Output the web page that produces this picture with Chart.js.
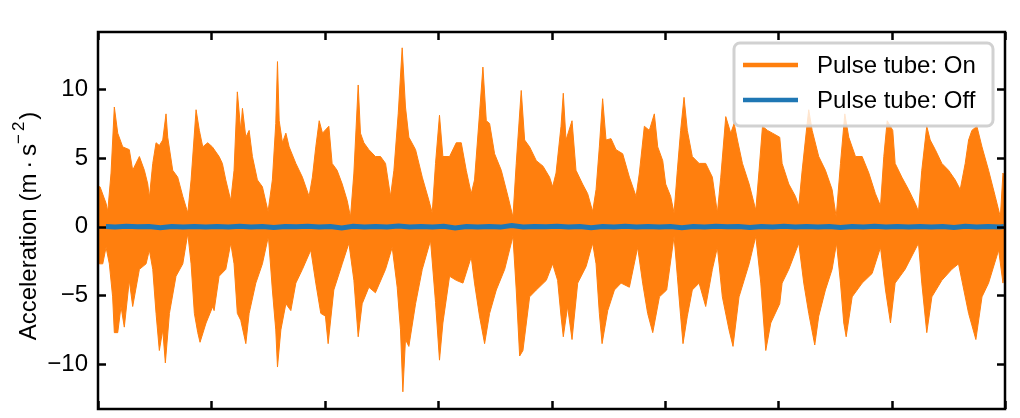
<!DOCTYPE html>
<html>
<head>
<meta charset="utf-8">
<script src="https://cdn.jsdelivr.net/npm/chart.js@4.4.0/dist/chart.umd.min.js"></script>
<style>
  html, body { margin: 0; padding: 0; background: #fff; overflow: hidden; }
  #wrap { position: relative; width: 1020px; height: 418px; }
</style>
</head>
<body>
<div id="wrap"><canvas id="accel"></canvas></div>
<script>
// Pulse tube "On": upper and lower envelope of the acceleration trace (time in tick units)
const onUpperT = [0.000,0.018,0.071,0.086,0.115,0.144,0.174,0.218,0.247,0.276,0.306,0.335,0.365,0.409,0.439,0.453,
  0.483,0.512,0.541,0.571,0.600,0.615,0.659,0.703,0.748,0.792,0.821,0.865,0.894,0.924,0.968,1.009,1.068,1.097,1.127,
  1.171,1.200,1.229,1.259,1.274,1.304,1.333,1.362,1.406,1.450,1.500,1.538,1.568,1.583,1.598,1.627,1.657,1.686,1.745,
  1.803,1.862,1.891,1.921,1.951,1.980,2.036,2.065,2.109,2.154,2.198,2.227,2.257,2.295,2.315,2.345,2.389,2.447,2.492,
  2.536,2.580,2.610,2.648,2.683,2.712,2.742,2.801,2.860,2.919,2.948,2.977,3.012,3.042,3.101,3.160,3.204,3.248,3.292,
  3.321,3.365,3.395,3.425,3.454,3.498,3.557,3.616,3.660,3.689,3.733,3.763,3.807,3.866,3.925,3.983,4.010,4.040,4.084,
  4.104,4.128,4.181,4.216,4.274,4.319,4.363,4.393,4.422,4.451,4.481,4.525,4.569,4.628,4.687,4.746,4.775,4.819,4.863,
  4.907,4.937,4.981,5.007,5.051,5.081,5.110,5.139,5.169,5.198,5.242,5.302,5.360,5.419,5.463,5.493,5.537,5.581,5.611,
  5.640,5.684,5.743,5.802,5.831,5.861,5.905,5.949,6.013,6.034,6.093,6.152,6.181,6.211,6.255,6.269,6.299,6.357,6.416,
  6.475,6.511,6.549,6.587,6.622,6.681,6.740,6.799,6.857,6.902,6.931,6.961,7.010,7.031,7.090,7.149,7.208,7.237,7.266,
  7.310,7.340,7.385,7.443,7.502,7.561,7.605,7.649,7.679,7.708,7.752,7.797,7.855,7.914,7.959,7.982,7.995];
const onUpperV = [2.9,2.9,1.7,1.1,3.9,8.7,6.8,5.8,5.7,5.6,4.1,4.6,5.1,4.1,3.1,2.1,
  4.6,6.1,5.9,6.3,8.2,6.5,4.1,3.6,2.2,1.0,3.4,8.5,7.0,5.8,6.1,5.8,5.1,4.6,3.4,
  1.9,4.1,9.8,7.0,8.6,6.5,7.0,5.1,3.4,2.9,1.1,3.4,7.5,12.0,7.7,6.1,6.8,5.8,4.6,
  3.6,2.2,3.6,5.8,7.7,6.8,7.3,4.6,4.1,3.1,1.9,0.7,3.9,10.3,6.8,6.1,5.6,5.1,5.1,
  4.6,2.2,4.1,8.2,13.0,8.7,6.5,5.6,3.6,1.9,1.0,4.6,8.1,5.1,5.1,6.1,6.1,4.1,2.4,
  3.4,8.2,11.6,7.7,7.5,5.3,4.1,2.2,0.7,4.6,9.9,6.3,5.8,4.8,4.4,3.6,2.9,3.9,7.3,
  9.7,6.3,7.7,4.1,3.1,2.4,1.1,2.7,5.8,9.3,6.3,6.4,5.6,5.3,3.6,2.2,3.9,7.3,7.0,
  8.2,5.8,4.8,3.1,2.2,1.0,4.1,7.0,9.4,7.0,5.1,4.6,4.6,3.6,1.0,3.6,8.0,6.8,7.5,
  6.3,4.6,3.1,1.2,4.1,7.3,7.0,6.8,6.5,4.6,3.1,2.2,1.5,4.1,7.5,8.5,7.0,5.1,4.1,
  2.7,0.7,4.6,8.2,6.5,5.1,5.1,3.9,2.4,1.5,5.1,7.7,7.0,4.6,3.6,2.7,1.7,1.1,4.1,
  7.3,6.3,5.6,4.6,4.1,3.4,2.7,4.6,6.3,7.0,7.3,5.8,4.1,2.2,0.7,3.9,3.6];
const onLowerT = [0.000,0.012,0.042,0.071,0.100,0.129,0.144,0.174,0.203,0.232,0.276,0.306,0.365,0.424,0.453,0.483,
  0.512,0.541,0.571,0.594,0.630,0.688,0.748,0.792,0.821,0.850,0.880,0.900,0.953,1.012,1.024,1.068,1.127,1.171,1.200,
  1.229,1.259,1.304,1.333,1.392,1.450,1.503,1.538,1.568,1.583,1.613,1.657,1.701,1.745,1.803,1.877,1.921,1.965,2.006,
  2.030,2.080,2.154,2.213,2.257,2.295,2.330,2.389,2.447,2.536,2.595,2.639,2.668,2.689,2.712,2.742,2.801,2.860,2.933,
  2.977,3.012,3.042,3.101,3.160,3.219,3.292,3.321,3.365,3.410,3.454,3.513,3.587,3.660,3.689,3.719,3.748,3.807,3.866,
  3.954,4.010,4.054,4.084,4.104,4.142,4.181,4.231,4.305,4.363,4.393,4.422,4.446,4.496,4.555,4.614,4.687,4.760,4.804,
  4.848,4.893,4.952,5.016,5.081,5.110,5.139,5.160,5.198,5.242,5.302,5.360,5.419,5.463,5.507,5.566,5.601,5.654,5.743,
  5.802,5.846,5.890,5.934,6.013,6.034,6.093,6.181,6.225,6.269,6.322,6.357,6.416,6.475,6.514,6.549,6.578,6.599,6.652,
  6.740,6.828,6.902,6.946,6.990,7.031,7.119,7.237,7.266,7.310,7.355,7.443,7.531,7.590,7.679,7.743,7.797,7.855,7.944,
  7.982,7.995];
const onLowerV = [-2.4,-2.7,-2.7,-1.5,-2.7,-5.1,-7.7,-7.7,-5.8,-7.3,-3.9,-5.8,-3.1,-2.7,-1.7,-3.1,
  -6.3,-9.0,-7.5,-9.9,-6.3,-3.6,-2.7,-0.5,-2.7,-6.3,-7.7,-8.4,-7.0,-5.8,-6.1,-3.6,-3.1,-1.2,-2.7,
  -6.3,-6.8,-8.5,-6.3,-4.1,-2.7,-0.7,-4.6,-7.5,-10.2,-7.5,-5.6,-6.1,-4.1,-3.1,-1.7,-4.1,-6.3,-6.5,
  -8.5,-4.6,-2.7,-1.2,-3.9,-8.0,-5.6,-4.4,-4.8,-3.1,-1.5,-4.4,-7.5,-12.0,-8.2,-8.7,-5.6,-3.1,-1.0,
  -5.5,-9.7,-7.0,-3.6,-3.9,-4.1,-2.2,-4.1,-6.5,-8.5,-6.3,-4.6,-3.1,-0.7,-4.6,-9.4,-9.0,-5.1,-4.6,
  -3.9,-2.7,-3.9,-6.5,-8.0,-5.8,-8.2,-4.1,-2.9,-1.2,-2.7,-6.3,-8.5,-6.1,-4.6,-4.1,-4.4,-1.5,-4.1,
  -6.3,-7.7,-5.1,-4.6,-0.7,-3.6,-6.5,-8.5,-6.5,-4.6,-4.1,-5.8,-3.1,-1.5,-5.1,-7.5,-8.7,-5.1,-2.7,
  -0.7,-4.1,-9.0,-7.0,-5.6,-4.1,-3.1,-1.2,-4.1,-6.3,-8.6,-6.5,-4.6,-3.1,-1.2,-4.1,-7.0,-8.0,-5.1,
  -4.1,-3.4,-1.5,-4.6,-7.0,-4.1,-3.1,-1.2,-4.1,-7.7,-5.1,-3.9,-3.1,-2.7,-6.3,-8.2,-5.1,-4.1,-1.7,
  -4.1,-3.2];
// Pulse tube "Off": trace stays close to zero
const offT = [0.07,0.15,0.25,0.35,0.45,0.55,0.65,0.75,0.85,0.95,1.05,1.15,1.25,1.35,1.45,1.55,1.65,1.75,1.85,1.95,
  2.05,2.15,2.25,2.35,2.45,2.55,2.65,2.75,2.85,2.95,3.05,3.15,3.25,3.35,3.45,3.55,3.65,3.75,3.85,3.95,
  4.05,4.15,4.25,4.35,4.45,4.55,4.65,4.75,4.85,4.95,5.05,5.15,5.25,5.35,5.45,5.55,5.65,5.75,5.85,5.95,
  6.05,6.15,6.25,6.35,6.45,6.55,6.65,6.75,6.85,6.95,7.05,7.15,7.25,7.35,7.45,7.55,7.65,7.75,7.85,7.95,7.99];
const offV = [0.02,-0.02,0.03,-0.01,0.02,-0.08,0.02,-0.02,0.01,-0.03,0.02,-0.02,0.04,-0.02,0.01,-0.06,0.02,-0.01,0.03,-0.02,
  0.02,-0.10,0.03,-0.02,0.02,-0.03,0.05,-0.02,0.01,-0.02,0.03,-0.09,0.02,-0.02,0.01,-0.03,0.08,-0.02,0.02,-0.01,
  0.03,-0.02,0.02,-0.07,0.01,-0.02,0.03,-0.02,0.02,-0.03,0.02,-0.08,0.01,-0.02,0.03,-0.01,0.02,-0.06,0.02,-0.02,
  0.03,-0.02,0.01,-0.03,0.02,-0.05,0.02,-0.02,0.03,-0.02,0.02,-0.03,0.01,-0.02,0.02,-0.06,0.03,-0.02,0.02,-0.02,0.02];

const yTicks = [-10, -5, 0, 5, 10];
const xTicks = [0, 1, 2, 3, 4, 5, 6, 7, 8];
const seriesLabels = ['Pulse tube: On', 'Pulse tube: Off'];

const COLORS = { on: '#ff7f0e', off: '#1f77b4', frame: '#000' };
const FONT = "'Liberation Sans', Arial, sans-serif";

const pts = (t, v) => t.map((x, i) => ({ x, y: v[i] }));

// frame, inward ticks, y title and legend
const decorPlugin = {
  id: 'decor',
  afterDraw(chart) {
    const ctx = chart.ctx;
    const { left, right, top, bottom } = chart.chartArea;
    const xs = chart.scales.x, ys = chart.scales.y;
    const tl = 8;
    ctx.save();
    ctx.strokeStyle = COLORS.frame;
    ctx.lineWidth = 2.5;
    ctx.lineCap = 'butt';
    ctx.beginPath();
    yTicks.forEach(v => {
      const py = Math.round(ys.getPixelForValue(v)) + 0.5;
      ctx.moveTo(left, py); ctx.lineTo(left + tl, py);
      ctx.moveTo(right, py); ctx.lineTo(right - tl, py);
    });
    xTicks.forEach(t => {
      const px = Math.round(xs.getPixelForValue(t)) + 0.5;
      ctx.moveTo(px, top); ctx.lineTo(px, top + tl);
      ctx.moveTo(px, bottom); ctx.lineTo(px, bottom - tl);
    });
    ctx.stroke();
    ctx.strokeRect(left, top, right - left, bottom - top);

    // y axis title with superscript
    ctx.fillStyle = '#000';
    ctx.translate(29, 226);
    ctx.rotate(-Math.PI / 2);
    ctx.textBaseline = 'middle';
    ctx.textAlign = 'left';
    const big = `24px ${FONT}`, small = `17px ${FONT}`;
    const p1 = 'Acceleration (m\u2009\u00b7\u2009s', p2 = '\u2212', p3 = '2', p4 = ')';
    ctx.font = big; const w1 = ctx.measureText(p1).width, w4 = ctx.measureText(p4).width;
    ctx.font = small; const w2 = ctx.measureText(p2).width, w3 = ctx.measureText(p3).width;
    const gap = 3;
    let x0 = -(w1 + w2 + gap + w3 + w4 + 2) / 2;
    ctx.font = big; ctx.fillText(p1, x0, 0); x0 += w1;
    ctx.font = small; ctx.fillText(p2, x0, -10); x0 += w2 + gap;
    ctx.fillText(p3, x0, -10); x0 += w3 + 2;
    ctx.font = big; ctx.fillText(p4, x0, 0);
    ctx.restore();

    // legend
    ctx.save();
    const bx = 734, by = 43, bw = 259, bh = 83;
    ctx.beginPath();
    ctx.roundRect(bx, by, bw, bh, 6);
    ctx.fillStyle = 'rgba(255,255,255,0.8)';
    ctx.fill();
    ctx.lineWidth = 3;
    ctx.strokeStyle = 'rgba(204,204,204,0.9)';
    ctx.stroke();
    const entries = [
      { label: seriesLabels[0], color: chart.data.datasets[1].borderColor, y: 65 },
      { label: seriesLabels[1], color: chart.data.datasets[0].borderColor, y: 100 },
    ];
    ctx.font = `24px ${FONT}`;
    ctx.textBaseline = 'middle';
    ctx.textAlign = 'left';
    entries.forEach(e => {
      ctx.strokeStyle = e.color;
      ctx.lineWidth = 4.5;
      ctx.beginPath(); ctx.moveTo(743, e.y); ctx.lineTo(798, e.y); ctx.stroke();
      ctx.fillStyle = '#000';
      ctx.fillText(e.label, 817, e.y + 1);
    });
    ctx.restore();
  }
};

new Chart(document.getElementById('accel'), {
  type: 'line',
  data: {
    datasets: [
      { label: seriesLabels[1], data: pts(offT, offV), borderColor: COLORS.off, borderWidth: 5,
        pointRadius: 0, fill: false, order: 0 },
      { label: seriesLabels[0], data: pts(onUpperT, onUpperV), borderColor: COLORS.on, backgroundColor: COLORS.on,
        borderWidth: 1, pointRadius: 0, fill: '+1', order: 1 },
      { label: seriesLabels[0] + ' (lower)', data: pts(onLowerT, onLowerV), borderColor: COLORS.on,
        backgroundColor: COLORS.on, borderWidth: 1, pointRadius: 0, fill: false, order: 2 },
    ]
  },
  options: {
    responsive: true, maintainAspectRatio: false,
    animation: false,
    layout: { padding: { left: 0, top: 32, right: 15, bottom: 9 } },
    elements: { line: { tension: 0 } },
    plugins: { legend: { display: false }, tooltip: { enabled: false } },
    scales: {
      x: {
        type: 'linear', min: 0, max: 8,
        grid: { display: false, drawTicks: false }, border: { display: false },
        ticks: { display: false },
        afterBuildTicks: s => { s.ticks = xTicks.map(value => ({ value })); },
        afterFit: s => { s.height = 0; s.paddingLeft = 0; s.paddingRight = 0; },
      },
      y: {
        type: 'linear', min: -13.25, max: 14.15,
        grid: { display: false, drawTicks: false }, border: { display: false },
        afterBuildTicks: s => { s.ticks = yTicks.map(value => ({ value })); },
        afterFit: s => { s.width = 98; s.paddingTop = 0; s.paddingBottom = 0; },
        ticks: {
          color: '#000', padding: 10, font: { family: FONT, size: 24 },
          callback: v => (v < 0 ? '\u2212' + Math.abs(v) : String(v)),
        },
      },
    },
  },
  plugins: [decorPlugin],
});
</script>
</body>
</html>
